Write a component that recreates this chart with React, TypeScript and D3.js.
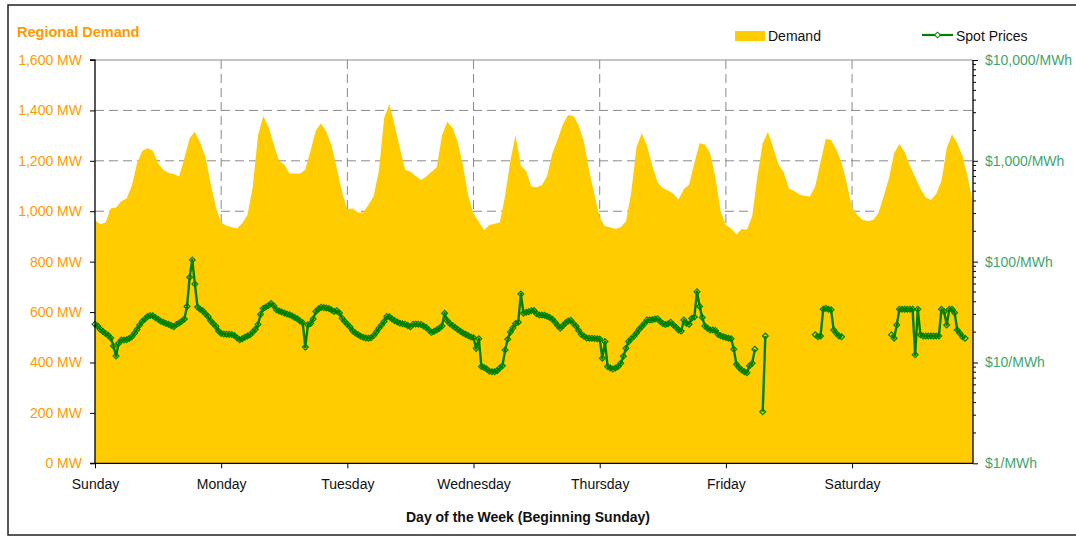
import * as d3 from 'd3'
import { useRef, useEffect } from 'react'

const days = ['Sunday', 'Monday', 'Tuesday', 'Wednesday', 'Thursday', 'Friday', 'Saturday']
const demandTicks = [0, 200, 400, 600, 800, 1000, 1200, 1400, 1600]
const priceTicks = [1, 10, 100, 1000, 10000]

// hourly regional demand, MW (Sunday 00:00 .. Saturday 23:00)
const demand = [
  965, 948, 955, 1012, 1015, 1040, 1051, 1100, 1190, 1240,
  1250, 1240, 1190, 1165, 1152, 1148, 1138, 1210, 1290, 1315,
  1272, 1215, 1110, 1015, 955, 942, 936, 932, 952, 985,
  1095, 1300, 1378, 1335, 1265, 1200, 1185, 1150, 1150, 1150,
  1165, 1240, 1320, 1349, 1315, 1260, 1170, 1075, 1008, 1011,
  995, 995, 1025, 1060, 1160, 1370, 1425, 1340, 1250, 1165,
  1157, 1140, 1124, 1138, 1157, 1175, 1300, 1355, 1330, 1275,
  1180, 1060, 990, 958, 925, 945, 950, 955, 1060, 1200,
  1300, 1180, 1160, 1098, 1095, 1104, 1140, 1230, 1285, 1345,
  1382, 1378, 1340, 1275, 1160, 1065, 975, 940, 936, 930,
  937, 960, 1075, 1255, 1309, 1260, 1180, 1115, 1092, 1082,
  1069, 1047, 1088, 1105, 1190, 1270, 1265, 1230, 1135, 1000,
  945, 932, 908, 930, 928, 980, 1140, 1270, 1315, 1252,
  1185, 1155, 1090, 1080, 1066, 1060, 1058, 1100, 1195, 1288,
  1283, 1245, 1192, 1110, 1015, 985, 965, 961, 965, 992,
  1058, 1130, 1230, 1267, 1235, 1180, 1135, 1090, 1055, 1045,
  1068, 1120, 1250, 1305, 1270, 1220, 1135, 1030,
]

// half-hourly spot prices, $/MWh (null = no price)
const N = null
const spotPrices: (number | null)[] = [
  24, 23, 21.3, 20.3, 19.4, 18.6, 17.5, 14.6, 11.6, 15.5,
  16.7, 16.7, 16.8, 17.3, 18, 19.5, 21.2, 23.5, 25.6, 27,
  28.6, 29.3, 29, 27.8, 26.8, 25.6, 25, 24.4, 24, 23.2,
  22.6, 23.8, 24.6, 25.6, 27, 36, 70, 104, 60, 35.5,
  33.8, 32.5, 30.5, 28.5, 26, 24.2, 22.8, 20.5, 19.4, 19.2,
  19.1, 19, 18.9, 18.5, 17.6, 16.8, 17.2, 17.8, 18.3, 18.8,
  20, 21.3, 23.8, 30, 34.3, 35.5, 36.8, 38.5, 36.5, 33.4,
  32.4, 31.7, 31, 30.3, 29.7, 28.9, 28, 27.1, 25.8, 24.8,
  14.2, 23.6, 24.3, 27, 32, 34, 35.2, 35, 34.7, 34.3,
  33.2, 32, 32.5, 31, 27.5, 25.5, 24, 22.5, 20.6, 19.6,
  18.9, 18.2, 17.8, 17.5, 17.4, 17.6, 18.5, 20, 21.8, 23.5,
  25.5, 28.5, 28.4, 27, 26, 25.2, 24.5, 24.2, 24, 23.2,
  22.6, 24, 24.1, 24, 23.8, 23, 22.2, 21, 19.8, 20.4,
  21, 21.8, 23, 30.8, 26, 24.2, 23.2, 22.2, 21.2, 20.4,
  19.6, 19, 18.4, 17.9, 17.6, 13.8, 17.2, 9.1, 8.9, 8.6,
  8.2, 8.1, 8.1, 8.3, 8.8, 9.3, 13.3, 17, 20, 22,
  24.3, 25.1, 47.8, 30.8, 31.5, 31.9, 32.6, 32.8, 30.5, 29.6,
  29.6, 29.4, 28.8, 28, 26.8, 25, 23.2, 21.8, 23.2, 24.7,
  25.8, 26.2, 24.3, 22.9, 20.8, 19, 18.2, 17.5, 17.4, 17.4,
  17.3, 17.2, 17.1, 11, 16.1, 9.1, 8.8, 8.6, 8.8, 9.1,
  9.8, 11.5, 13.8, 16.1, 17.2, 18.2, 19.6, 21.3, 22.8, 24.3,
  26.4, 26.4, 26.5, 27, 27.2, 25.5, 24.3, 23.8, 24.2, 25,
  23.5, 22.4, 21, 20.5, 26.4, 24.5, 24, 27.4, 28.3, 50.4,
  36, 28, 23, 21.8, 21, 21, 20.8, 19, 18.4, 18,
  17.7, 17.4, 17.2, 13.5, 9.6, 8.9, 8.4, 8.1, 7.9, 9.3,
  9.8, 13.5, N, N, 3.25, 18.3, N, N, N, N,
  N, N, N, N, N, N, N, N, N, N,
  N, N, N, N, 18.8, 18, 18.3, 33.7, 34.5, 33.7,
  33.3, 21, 19.5, 18.3, 18, N, N, N, N, N,
  N, N, N, N, N, N, N, N, N, N,
  N, N, N, 18.8, 17.4, 23.6, 33.7, 33.7, 33.7, 33.7,
  33.7, 33.7, 11.9, 33.7, 18.8, 18.3, 18.3, 18.3, 18.3, 18.3,
  18.3, 18.3, 33.7, 32, 23.6, 33.7, 33.7, 31.2, 21, 19.5,
  18, 17.4, N, N, N,
]

const svgWidth = 1076
const svgHeight = 536
const margin = { left: 95, right: 103, top: 60, bottom: 72.7 }
const font = "'Liberation Sans', Arial, sans-serif"
const orange = '#FF9A00'
const green = '#3FA56E'
const yellow = '#FFCC00'
const lineGreen = '#008000'

export default function App() {
  const svgRef = useRef<SVGSVGElement>(null)

  useEffect(() => {
    const SVG = d3.select(svgRef.current)
    SVG.selectAll('*').remove()

    const x0 = margin.left
    const x1 = svgWidth - margin.right
    const y0 = svgHeight - margin.bottom
    const y1 = margin.top

    const xScale = d3.scaleLinear().domain([0, demand.length - 1]).range([x0, x1])
    const yScale = d3.scaleLinear().domain([0, 1600]).range([y0, y1])
    const pScale = d3.scaleLog().domain([1, 10000]).range([y0, y1])

    // frame
    SVG.append('rect')
      .attr('x', 8).attr('y', 5)
      .attr('width', 1075).attr('height', 530)
      .attr('fill', 'white').attr('stroke', '#222').attr('stroke-width', 1.5)

    // gridlines
    const grid = SVG.append('g')
    grid.selectAll('line.h')
      .data(demandTicks.filter(d => d > 0))
      .enter().append('line')
      .attr('x1', x0).attr('x2', x1)
      .attr('y1', d => yScale(d)).attr('y2', d => yScale(d))
      .attr('stroke', '#8a8a8a').attr('stroke-width', 1)
      .attr('stroke-dasharray', d => (d === 1600 ? null : '9,5'))
    grid.selectAll('line.v')
      .data(days.slice(1))
      .enter().append('line')
      .attr('x1', (d, i) => xScale((i + 1) * 24)).attr('x2', (d, i) => xScale((i + 1) * 24))
      .attr('y1', y1).attr('y2', y0)
      .attr('stroke', '#8a8a8a').attr('stroke-width', 1)
      .attr('stroke-dasharray', '9,5')

    // demand area
    const area = d3.area<number>()
      .x((d, i) => xScale(i))
      .y0(yScale(0))
      .y1(d => yScale(d))
    SVG.append('path').datum(demand).attr('d', area).attr('fill', yellow)

    // spot prices
    const line = d3.line<number | null>()
      .defined(d => d != null)
      .x((d, i) => xScale(i / 2))
      .y(d => pScale(d as number))
    SVG.append('path').datum(spotPrices).attr('d', line)
      .attr('fill', 'none').attr('stroke', lineGreen).attr('stroke-width', 2.4)
      .attr('stroke-linejoin', 'round')

    const pts = spotPrices.map((d, i) => ({ d, i })).filter(p => p.d != null)
    const diamond = d3.symbol().type(d3.symbolSquare).size(17)()
    SVG.append('g').selectAll('path')
      .data(pts).enter().append('path')
      .attr('d', diamond)
      .attr('transform', p => `translate(${xScale(p.i / 2)},${pScale(p.d as number)}) rotate(45)`)
      .attr('fill', 'none').attr('stroke', lineGreen).attr('stroke-width', 1.2)

    // left axis
    const yAxis = d3.axisLeft(yScale).tickValues(demandTicks).tickSize(5).tickPadding(8)
      .tickFormat(d => `${d3.format(',')(d as number)} MW`)
    const gl = SVG.append('g').attr('transform', `translate(${x0},0)`).call(yAxis)
    gl.select('.domain').attr('stroke', '#000').attr('stroke-width', 1.3).attr('d', `M-5,${y1}H0V${y0}H-5`)
    gl.selectAll('.tick line').attr('stroke', '#000')
    gl.selectAll('.tick text').attr('fill', orange).style('font', `14px ${font}`)

    // right axis (log)
    const minor: number[] = []
    priceTicks.slice(0, -1).forEach(p => { for (let k = 2; k <= 9; k++) minor.push(p * k) })
    SVG.append('g').selectAll('line')
      .data(minor).enter().append('line')
      .attr('x1', x1).attr('x2', x1 + 3)
      .attr('y1', d => pScale(d)).attr('y2', d => pScale(d))
      .attr('stroke', '#000')
    const pAxis = d3.axisRight(pScale).tickValues(priceTicks).tickSize(5).tickPadding(7)
      .tickFormat(d => `$${d3.format(',')(d as number)}/MWh`)
    const gr = SVG.append('g').attr('transform', `translate(${x1},0)`).call(pAxis)
    gr.select('.domain').attr('stroke', '#000').attr('stroke-width', 1.3).attr('d', `M0,${y1}V${y0}`)
    gr.selectAll('.tick line').attr('stroke', '#000')
    gr.selectAll('.tick text').attr('fill', green).style('font', `14px ${font}`)

    // bottom axis
    const xAxis = d3.axisBottom(xScale).tickValues(days.map((d, i) => i * 24)).tickSize(5).tickPadding(11)
      .tickFormat((d, i) => days[i])
    const gb = SVG.append('g').attr('transform', `translate(0,${y0})`).call(xAxis)
    gb.select('.domain').attr('stroke', '#000').attr('stroke-width', 1.3).attr('d', `M${x0},0H${x1}`)
    gb.selectAll('.tick line').attr('stroke', '#000')
    gb.selectAll('.tick text').attr('fill', '#111').style('font', `14px ${font}`)

    // titles
    SVG.append('text').attr('x', 17).attr('y', 37)
      .attr('fill', orange).style('font', `bold 14.5px ${font}`)
      .text('Regional Demand')
    SVG.append('text').attr('x', (x0 + x1) / 2 - 6).attr('y', 522)
      .attr('text-anchor', 'middle').attr('fill', '#111')
      .style('font', `bold 14px ${font}`)
      .text('Day of the Week (Beginning Sunday)')

    // legend
    const lg = SVG.append('g')
    lg.append('rect').attr('x', 735).attr('y', 31).attr('width', 30).attr('height', 10).attr('fill', yellow)
    lg.append('text').attr('x', 768).attr('y', 41).attr('fill', '#111')
      .style('font', `14px ${font}`).text('Demand')
    lg.append('line').attr('x1', 922).attr('x2', 953).attr('y1', 35).attr('y2', 35)
      .attr('stroke', lineGreen).attr('stroke-width', 2.2)
    lg.append('path').attr('d', diamond).attr('transform', 'translate(937.5,35) rotate(45)')
      .attr('fill', 'white').attr('stroke', lineGreen)
    lg.append('text').attr('x', 956).attr('y', 41).attr('fill', '#111')
      .style('font', `14px ${font}`).text('Spot Prices')
  }, [])

  return (
    <svg
      ref={svgRef}
      width={svgWidth}
      height={svgHeight}
      style={{ position: 'absolute', left: 0, top: 0, background: 'white' }}
    />
  )
}
